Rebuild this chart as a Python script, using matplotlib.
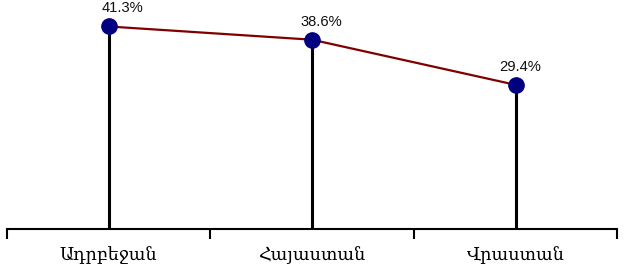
import matplotlib.pyplot as plt

countries = ['Ադրբեջան', 'Հայաստան', 'Վրաստան']
values = [41.3, 38.6, 29.4]
labels = ['41.3%', '38.6%', '29.4%']

fig = plt.figure(figsize=(6.24, 2.71), dpi=100)
ax = fig.add_axes([0.0112, 0.155, 0.978, 0.845])

x = [i + 0.5 for i in range(len(countries))]

# drop lines from each point to the axis
ax.vlines(x, 0, values, colors='black', linewidth=2.2, zorder=1)
ax.plot(x, values, color='#800000', linewidth=1.6, zorder=2)
ax.plot(x, values, 'o', color='#000080', markersize=11, zorder=3)

# value labels sit a little right of the points, as in the original
label_shift = [10, 6.5, 3]
for xi, v, t, dx in zip(x, values, labels, label_shift):
    ax.annotate(t, (xi, v), xytext=(dx, 13), textcoords='offset points',
                ha='center', va='center', fontsize=10.6,
                family=['Liberation Sans', 'DejaVu Sans'], color='#111111')

ax.set_xlim(0, 3)
ax.set_ylim(0, 46.7)

for s in ['top', 'right', 'left']:
    ax.spines[s].set_visible(False)
ax.spines['bottom'].set_linewidth(1.5)
ax.yaxis.set_visible(False)

ax.set_xticks([0, 1, 2, 3])
ax.set_xticklabels([])
ax.tick_params(axis='x', which='major', direction='out', length=7, width=1.5)
ax.set_xticks(x, minor=True)
ax.set_xticklabels(countries, minor=True, fontsize=12.7, family=['DejaVu Serif', 'DejaVu Sans'])
ax.tick_params(axis='x', which='minor', length=0, pad=12)

fig.savefig('out.png', dpi=100)
